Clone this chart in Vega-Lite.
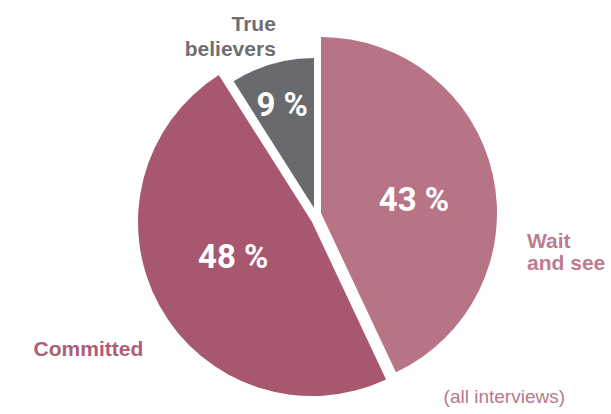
{
  "$schema": "https://vega.github.io/schema/vega-lite/v6.json",
  "width": 611,
  "height": 414,
  "padding": 0,
  "autosize": {"type": "none"},
  "background": "white",
  "view": {"stroke": null},
  "title": {"text": "(all interviews)", "orient": "bottom", "anchor": "end", "frame": "group", "offset": -26, "dx": -46, "fontSize": 19, "fontWeight": "normal", "font": "Liberation Sans", "color": "#b9788c"},
  "data": {"values": [
    {"cat": "Wait and see", "label": "Wait\nand see", "pct": "43 %", "value": 43, "order": 1},
    {"cat": "Committed", "label": "Committed", "pct": "48 %", "value": 48, "order": 2},
    {"cat": "True believers", "label": "True\nbelievers", "pct": "9 %", "value": 9, "order": 3}
  ]},
  "layer": [
    {
      "transform": [
        {"stack": "value", "groupby": [], "sort": [{"field": "order", "order": "ascending"}], "as": ["v0", "v1"]},
        {"filter": "datum.order === 1"}
      ],
      "mark": {"type": "arc", "outerRadius": 176, "xOffset": 15.5, "yOffset": 6, "color": "#b77485"},
      "encoding": {
        "theta": {"field": "v0", "type": "quantitative", "scale": {"domain": [0, 100], "range": [0, 6.283185307]}},
        "theta2": {"field": "v1"}
      }
    },
    {
      "transform": [
        {"stack": "value", "groupby": [], "sort": [{"field": "order", "order": "ascending"}], "as": ["v0", "v1"]},
        {"filter": "datum.order === 2"}
      ],
      "mark": {"type": "arc", "outerRadius": 174, "xOffset": 6.5, "yOffset": 15, "color": "#a8586e"},
      "encoding": {
        "theta": {"field": "v0", "type": "quantitative", "scale": {"domain": [0, 100], "range": [0, 6.283185307]}},
        "theta2": {"field": "v1"}
      }
    },
    {
      "transform": [
        {"stack": "value", "groupby": [], "sort": [{"field": "order", "order": "ascending"}], "as": ["v0", "v1"]},
        {"filter": "datum.order === 3"}
      ],
      "mark": {"type": "arc", "outerRadius": 150, "xOffset": 8.5, "yOffset": 1, "color": "#686a6e"},
      "encoding": {
        "theta": {"field": "v0", "type": "quantitative", "scale": {"domain": [0, 100], "range": [0, 6.283185307]}},
        "theta2": {"field": "v1"}
      }
    },
    {
      "mark": {"type": "text", "radius": 105, "dx": 6, "dy": 17, "font": "Roboto", "fontWeight": "bold", "fontSize": 33, "color": "white", "align": "center", "baseline": "middle"},
      "encoding": {
        "theta": {"field": "value", "type": "quantitative", "stack": true, "scale": {"domain": [0, 100], "range": [0, 6.283185307]}},
        "order": {"field": "order", "type": "quantitative"},
        "text": {"condition": {"test": "datum.order === 1", "field": "pct"}, "value": ""}
      }
    },
    {
      "mark": {"type": "text", "radius": 95, "dx": 11, "dy": 5, "font": "Roboto", "fontWeight": "bold", "fontSize": 33, "color": "white", "align": "center", "baseline": "middle"},
      "encoding": {
        "theta": {"field": "value", "type": "quantitative", "stack": true, "scale": {"domain": [0, 100], "range": [0, 6.283185307]}},
        "order": {"field": "order", "type": "quantitative"},
        "text": {"condition": {"test": "datum.order === 2", "field": "pct"}, "value": ""}
      }
    },
    {
      "mark": {"type": "text", "radius": 105, "dx": 6, "dy": 0, "font": "Roboto", "fontWeight": "bold", "fontSize": 33, "color": "white", "align": "center", "baseline": "middle"},
      "encoding": {
        "theta": {"field": "value", "type": "quantitative", "stack": true, "scale": {"domain": [0, 100], "range": [0, 6.283185307]}},
        "order": {"field": "order", "type": "quantitative"},
        "text": {"condition": {"test": "datum.order === 3", "field": "pct"}, "value": ""}
      }
    },
    {
      "mark": {"type": "text", "radius": 227, "dx": 0, "dy": 85, "font": "Liberation Sans", "fontWeight": "bold", "fontSize": 21, "lineHeight": 22, "lineBreak": "\n", "color": "#bf7b8f", "align": "left", "baseline": "middle"},
      "encoding": {
        "theta": {"field": "value", "type": "quantitative", "stack": true, "scale": {"domain": [0, 100], "range": [0, 6.283185307]}},
        "order": {"field": "order", "type": "quantitative"},
        "text": {"condition": {"test": "datum.order === 1", "field": "label"}, "value": ""}
      }
    },
    {
      "mark": {"type": "text", "radius": 250, "dx": 2, "dy": 23, "font": "Liberation Sans", "fontWeight": "bold", "fontSize": 21, "color": "#ad5e74", "align": "center", "baseline": "middle"},
      "encoding": {
        "theta": {"field": "value", "type": "quantitative", "stack": true, "scale": {"domain": [0, 100], "range": [0, 6.283185307]}},
        "order": {"field": "order", "type": "quantitative"},
        "text": {"condition": {"test": "datum.order === 2", "field": "label"}, "value": ""}
      }
    },
    {
      "mark": {"type": "text", "radius": 178, "dx": 20, "dy": -11, "font": "Liberation Sans", "fontWeight": "bold", "fontSize": 21, "lineHeight": 25, "lineBreak": "\n", "color": "#6e6f73", "align": "right", "baseline": "middle"},
      "encoding": {
        "theta": {"field": "value", "type": "quantitative", "stack": true, "scale": {"domain": [0, 100], "range": [0, 6.283185307]}},
        "order": {"field": "order", "type": "quantitative"},
        "text": {"condition": {"test": "datum.order === 3", "field": "label"}, "value": ""}
      }
    }
  ]
}
